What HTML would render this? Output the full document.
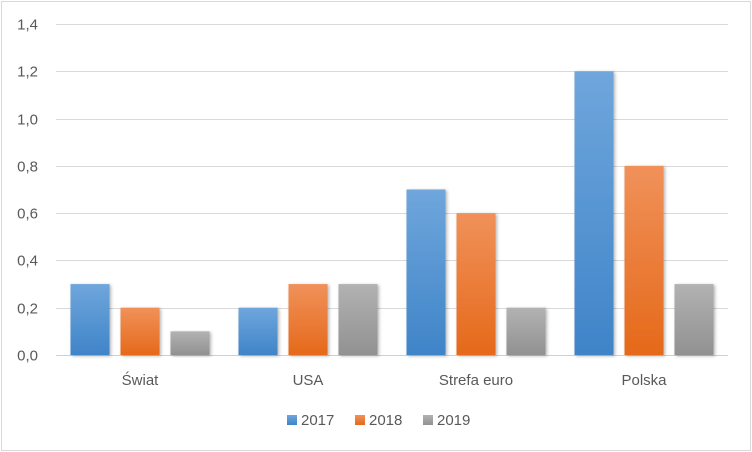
<!DOCTYPE html>
<html><head><meta charset="utf-8"><style>
body{margin:0;background:#fff;font-family:"Liberation Sans",sans-serif}
svg{display:block}
</style></head><body>
<svg id="c" width="752" height="452">
<defs>
<linearGradient id="g0" x1="0" y1="0" x2="0" y2="1"><stop offset="0" stop-color="#6fa6dc"/><stop offset="1" stop-color="#3f84c8"/></linearGradient>
<linearGradient id="g1" x1="0" y1="0" x2="0" y2="1"><stop offset="0" stop-color="#f0915a"/><stop offset="1" stop-color="#e5691a"/></linearGradient>
<linearGradient id="g2" x1="0" y1="0" x2="0" y2="1"><stop offset="0" stop-color="#b2b2b2"/><stop offset="1" stop-color="#919191"/></linearGradient>
<filter id="sh" x="-20%" y="-5%" width="150%" height="115%"><feDropShadow dx="1.5" dy="1" stdDeviation="1.5" flood-color="#000" flood-opacity="0.3"/></filter>
</defs>
<rect x="1.5" y="1.5" width="749" height="449" fill="#fff" stroke="#d9d9d9"/>
</svg>
<script>
const categories=["Świat","USA","Strefa euro","Polska"];
const series=["2017","2018","2019"];
const v2017=[0.3,0.2,0.7,1.2];
const v2018=[0.2,0.3,0.6,0.8];
const v2019=[0.1,0.3,0.2,0.3];
const ticks=["0,0","0,2","0,4","0,6","0,8","1,0","1,2","1,4"];
const vals=[v2017,v2018,v2019];
const svg=document.getElementById('c');
const NS='http://www.w3.org/2000/svg';
const x0=56,x1=728,y0=355,y1=24,ymax=1.4;
const y=v=>y0-(v/ymax)*(y0-y1);
const gw=(x1-x0)/categories.length;
function mk(t,a){const e=document.createElementNS(NS,t);for(const k in a)e.setAttribute(k,a[k]);svg.appendChild(e);return e;}
ticks.forEach((t,i)=>{const v=i*0.2;const yy=Math.round(y(v))+0.5;
 const l=mk('line',{x1:x0,x2:x1,y1:yy,y2:yy,stroke:i==0?'#d0d0d0':'#d9d9d9','stroke-width':1});
 
 
 const tx=mk('text',{x:38,y:yy+5,'text-anchor':'end','font-size':15,fill:'#595959'});tx.textContent=t;
 
 
});
categories.forEach((c,ci)=>{const cx=x0+gw*(ci+0.5);
 vals.forEach((arr,si)=>{const bx=cx-70+si*50+0.5;const top=y(arr[ci]);
  const r=mk('rect',{x:bx,y:top,width:39,height:y0-top,fill:'url(#g'+si+')',filter:'url(#sh)'});
  
  
 });
 const t=mk('text',{x:cx,y:385,'text-anchor':'middle','font-size':15,fill:'#595959'});t.textContent=c;
 
 
});
const lx=[287,355,423];
series.forEach((s,i)=>{
 const r=mk('rect',{x:lx[i],y:415,width:10,height:10,fill:'url(#g'+i+')'});
 
 
 const t=mk('text',{x:lx[i]+14,y:425,'font-size':15,fill:'#595959'});t.textContent=s;
 
 
});
</script>
</body></html>
